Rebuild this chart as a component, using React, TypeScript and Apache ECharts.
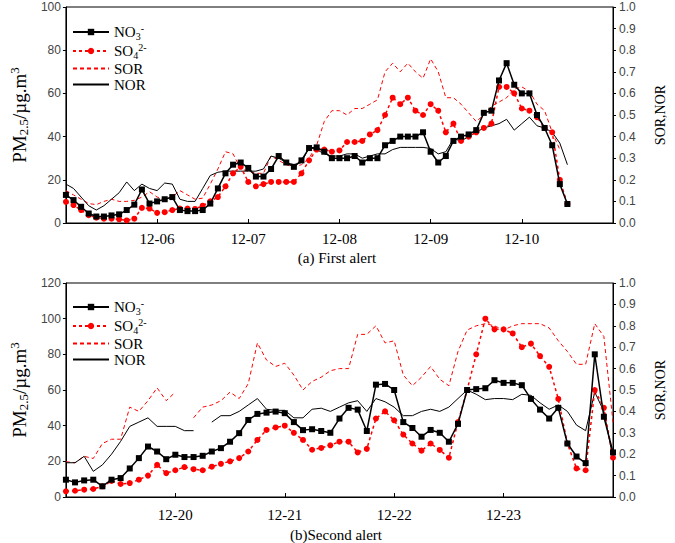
import React, { useEffect, useRef } from 'react';
import * as echarts from 'echarts';

// ---------- DATA ----------
// Sampling step of all series (hours); series start at the first day's 00:00.
const STEP_HOURS = 2;

// (a) First alert: 12-05 00:00 .. 12-10 12:00
const topDays = ['12-05', '12-06', '12-07', '12-08', '12-09', '12-10', '12-11'];
const topNO3 = [
  13, 10.6, 7.5, 4.4, 3, 3, 3.5, 4, 6, 8.5,
  15.5, 9, 10, 11, 12, 6, 5.5, 5.5, 6, 9,
  16, 23, 27, 28, 25.5, 21.5, 21.5, 25, 31, 28,
  26, 29, 34.7, 35, 33, 30, 30, 30, 31, 28,
  30, 30, 36, 38, 40, 40, 40, 42, 33, 28,
  31, 38, 40, 41, 43, 51, 52, 66, 74, 64,
  60, 60, 50, 44, 36, 18, 8.8,
];
const topSO4 = [
  9.8, 8.3, 6, 3.6, 2.5, 2, 2, 1.7, 1.2, 2,
  7, 6.7, 4.7, 5, 6, 6.7, 6.7, 6.5, 8, 10,
  12, 17, 23, 26, 19, 17, 18, 19, 19, 19,
  19, 23, 29, 34, 34, 33, 33.6, 37.5, 37.5, 38,
  41, 43, 50, 58, 55, 58, 52, 50, 55, 52,
  42, 46, 38, 40, 42, 44, 46, 63, 63, 60,
  53, 52, 49, 44, 42, 20, 8.8,
];
const topSOR = [
  0.15, 0.13, 0.11, 0.09, 0.085, 0.1, 0.11, 0.1, 0.1, 0.105,
  0.12, 0.145, 0.12, 0.11, 0.12, 0.15, 0.13, 0.11, 0.115, 0.18,
  0.25, 0.33, 0.32, 0.25, 0.24, 0.23, 0.23, 0.31, 0.29, 0.27,
  0.26, 0.27, 0.3, 0.36, 0.47, 0.52, 0.52, 0.5, 0.53, 0.53,
  0.55, 0.57, 0.7, 0.74, 0.7, 0.74, 0.7, 0.67, 0.76, 0.7,
  0.58, 0.58, 0.55, 0.51, 0.47, 0.5, 0.54, 0.56, 0.58, 0.62,
  0.63, 0.61, 0.55, 0.52, 0.42, 0.34, null,
];
const topNOR = [
  0.18, 0.16, 0.12, 0.08, 0.06, 0.08, 0.11, 0.14, 0.19, 0.15,
  0.18, 0.16, 0.15, 0.185, 0.18, 0.11, 0.1, 0.1, 0.16, 0.22,
  0.235, 0.24, 0.24, 0.24, 0.24, 0.24, 0.25, 0.31, 0.3, 0.28,
  0.27, 0.28, 0.35, 0.34, 0.32, 0.31, 0.31, 0.32, 0.32, 0.3,
  0.31, 0.32, 0.32, 0.34, 0.35, 0.35, 0.35, 0.35, 0.345, 0.32,
  0.33, 0.39, 0.38, 0.4, 0.42, 0.44, 0.45, 0.46, 0.48, 0.43,
  0.46, 0.49, 0.45, 0.44, 0.42, 0.37, 0.27,
];

// (b) Second alert: 12-19 00:00 .. 12-24 00:00
const bottomDays = ['12-19', '12-20', '12-21', '12-22', '12-23', '12-24'];
const bottomNO3 = [
  9.7, 8.2, 9.3, 9.7, 6, 9.7, 10.6, 16, 21.8, 28.3,
  25.5, 21.2, 23.7, 22.4, 22.4, 23.1, 25.5, 27.4, 31, 35.8,
  43.2, 46.6, 47.3, 47.9, 47, 42, 37.5, 38, 37, 36,
  44, 50, 49, 37, 63, 63.4, 60, 42, 38.7, 33.8,
  37.6, 36, 31, 41, 60, 60.5, 61, 65.5, 64, 64,
  62.7, 55, 49, 44, 50, 30, 22.7, 19, 80, 45,
  25,
];
const bottomSO4 = [
  3.2, 3.5, 4.1, 4.5, 6, 9, 7.3, 7.8, 9.7, 12,
  18, 13.4, 15, 16.8, 15.6, 15, 17, 18.6, 20, 21.8,
  25.5, 32, 37.6, 39, 40, 36, 32, 26.5, 27.5, 29,
  31, 31, 25, 27, 44, 48, 43, 35, 30, 26,
  30, 26.4, 22, 42, 60, 80, 100, 94, 94, 91.7,
  84, 86, 79, 73, 55, 30, 16, 15, 60, 50,
  22,
];
const bottomSOR = [
  0.165, 0.16, 0.19, 0.18, 0.25, 0.27, 0.27, 0.42, 0.4, 0.45,
  0.51, 0.45, 0.49, null, 0.37, 0.42, 0.43, 0.45, 0.49, 0.46,
  0.53, 0.72, 0.64, 0.61, 0.625, 0.57, 0.5, 0.54, 0.56, 0.59,
  0.6, 0.6, 0.76, 0.76, 0.8, 0.72, 0.73, 0.57, 0.52, 0.56,
  0.61, 0.55, 0.52, 0.68, 0.78, 0.8, 0.81, 0.8, 0.78, 0.8,
  0.81, 0.81, 0.81, 0.79, 0.73, 0.68, 0.62, 0.62, 0.81, 0.75,
  0.35,
];
const bottomNOR = [
  0.16, 0.16, 0.19, 0.12, 0.15, 0.2, 0.26, 0.33, 0.35, 0.37,
  0.33, 0.33, 0.33, 0.31, 0.31, null, 0.35, 0.38, 0.38, 0.4,
  0.43, 0.46, 0.41, 0.405, 0.405, 0.37, 0.37, 0.41, 0.415, 0.4,
  0.42, 0.44, 0.45, 0.4, 0.46, 0.445, 0.42, 0.38, 0.38, 0.4,
  0.41, 0.4, 0.42, 0.46, 0.5, 0.48, 0.455, 0.46, 0.46, 0.455,
  0.48, 0.475, 0.44, 0.41, 0.43, 0.4, 0.336, 0.31, 0.49, 0.4,
  0.18,
];

const topLeftTicks = { min: 0, max: 100, interval: 20 };
const bottomLeftTicks = { min: 0, max: 120, interval: 20 };
const rightTicks = { min: 0, max: 1, interval: 0.1 };

const seriesNames = ['NO3', 'SO4', 'SOR', 'NOR'];
const legendLabels: Record<string, string> = {
  NO3: '{t|NO}{sub|3}{sup|-}',
  SO4: '{t|SO}{sub|4}{sup|2-}',
  SOR: '{t|SOR}',
  NOR: '{t|NOR}',
};
const captionTop = '(a) First alert';
const captionBottom = '(b)Second alert';

// ---------- STYLE ----------
const SERIF = '"Liberation Serif", "Times New Roman", serif';
const SANS = '"Liberation Sans", Arial, sans-serif';
const RED = '#ff0000';
const CLEAR = 'rgba(0,0,0,0)';

const toPairs = (arr: (number | null)[]) => arr.map((v, i) => [i * STEP_HOURS, v]);

const richText = {
  t: { fontFamily: SERIF, fontSize: 15, color: '#000', lineHeight: 18 },
  sub: { fontFamily: SERIF, fontSize: 10, color: '#000', lineHeight: 8, verticalAlign: 'bottom' },
  sup: { fontFamily: SERIF, fontSize: 10, color: '#000', lineHeight: 8, verticalAlign: 'top' },
};

const nameRich = {
  t: { fontFamily: SERIF, fontSize: 19, color: '#000', lineHeight: 22 },
  sub: { fontFamily: SERIF, fontSize: 13, color: '#000', lineHeight: 10, verticalAlign: 'bottom' },
  sup: { fontFamily: SERIF, fontSize: 13, color: '#000', lineHeight: 10, verticalAlign: 'top' },
};

function makeSeries(xi: number, yl: number, yr: number, no3: any[], so4: any[], sor: any[], nor: any[]) {
  return [
    {
      name: 'SOR', type: 'line', xAxisIndex: xi, yAxisIndex: yr, data: toPairs(sor),
      symbol: 'none', lineStyle: { color: RED, width: 1, type: [4, 3] },
      itemStyle: { color: CLEAR, borderColor: CLEAR, borderWidth: 0 }, z: 2,
    },
    {
      name: 'NOR', type: 'line', xAxisIndex: xi, yAxisIndex: yr, data: toPairs(nor),
      symbol: 'none', lineStyle: { color: '#000', width: 1 },
      itemStyle: { color: CLEAR, borderColor: CLEAR, borderWidth: 0 }, z: 2,
    },
    {
      name: 'SO4', type: 'line', xAxisIndex: xi, yAxisIndex: yl, data: toPairs(so4),
      symbol: 'circle', symbolSize: 6, showAllSymbol: true,
      lineStyle: { color: RED, width: 1.5, type: [3, 3] }, itemStyle: { color: RED }, z: 3,
    },
    {
      name: 'NO3', type: 'line', xAxisIndex: xi, yAxisIndex: yl, data: toPairs(no3),
      symbol: 'rect', symbolSize: 6, showAllSymbol: true,
      lineStyle: { color: '#000', width: 1.5 }, itemStyle: { color: '#000' }, z: 4,
    },
  ];
}

function xAxisFor(grid: number, days: string[], labelMargin: number) {
  const max = (days.length - 1) * 24;
  return {
    type: 'value', gridIndex: grid, min: 0, max, interval: 24,
    axisLine: { show: true, lineStyle: { color: '#000', width: 1 } },
    axisTick: { show: true, inside: true, length: 4, lineStyle: { color: '#000' } },
    axisLabel: {
      margin: labelMargin, fontFamily: SERIF, fontSize: 15, color: '#000',
      formatter: (v: number) => (v <= 0 || v >= max ? '' : days[Math.round(v / 24)]),
    },
    splitLine: { show: false },
  };
}

function leftAxis(grid: number, t: { min: number; max: number; interval: number }) {
  return {
    type: 'value', gridIndex: grid, position: 'left', ...t,
    name: '{t|PM}{sub|2.5}{t|/µg.m}{sup|3}', nameLocation: 'middle', nameRotate: 90, nameGap: 30,
    nameTextStyle: { rich: nameRich },
    axisLine: { show: true, lineStyle: { color: '#000' } },
    axisTick: { show: true, length: 3, lineStyle: { color: '#000' } },
    axisLabel: { margin: 5, fontFamily: SANS, fontSize: 12, color: '#444' },
    splitLine: { show: false },
  };
}

function rightAxis(grid: number) {
  return {
    type: 'value', gridIndex: grid, position: 'right', ...rightTicks,
    name: 'SOR,NOR', nameLocation: 'middle', nameRotate: 90, nameGap: 40,
    nameTextStyle: { fontFamily: SERIF, fontSize: 14, color: '#000' },
    axisLine: { show: true, lineStyle: { color: '#000' } },
    axisTick: { show: true, length: 3, lineStyle: { color: '#000' } },
    axisLabel: { margin: 6, fontFamily: SANS, fontSize: 12, color: '#444', formatter: (v: number) => v.toFixed(1) },
    splitLine: { show: false },
  };
}

function legendFor(top: number) {
  return {
    orient: 'vertical', left: 72, top, itemWidth: 36, itemHeight: 8, itemGap: 1, padding: 0,
    data: seriesNames,
    selectedMode: false,
    formatter: (n: string) => legendLabels[n],
    textStyle: { rich: richText },
  };
}

export default function App() {
  const ref = useRef<HTMLDivElement>(null);
  useEffect(() => {
    if (!ref.current) return;
    const chart = echarts.init(ref.current, null, { renderer: 'svg' });
    chart.setOption({
      animation: false,
      backgroundColor: '#fff',
      grid: [
        { left: 53, top: 7, width: 570, height: 216, show: true, borderColor: '#000', borderWidth: 1 },
        { left: 50, top: 283, width: 572, height: 214, show: true, borderColor: '#000', borderWidth: 1 },
      ],
      xAxis: [xAxisFor(0, topDays, 8), xAxisFor(1, bottomDays, 10)],
      yAxis: [leftAxis(0, topLeftTicks), rightAxis(0), leftAxis(1, bottomLeftTicks), rightAxis(1)],
      legend: [legendFor(23), legendFor(298)],
      graphic: [
        { type: 'text', x: 337, y: 258, style: { text: captionTop, fontFamily: SERIF, fontSize: 15, fill: '#000', align: 'center', verticalAlign: 'middle' } },
        { type: 'text', x: 336, y: 535, style: { text: captionBottom, fontFamily: SERIF, fontSize: 15, fill: '#000', align: 'center', verticalAlign: 'middle' } },
      ],
      series: [
        ...makeSeries(0, 0, 1, topNO3, topSO4, topSOR, topNOR),
        ...makeSeries(1, 2, 3, bottomNO3, bottomSO4, bottomSOR, bottomNOR),
      ],
    });
    return () => chart.dispose();
  }, []);
  return <div ref={ref} style={{ position: 'absolute', left: 0, top: 0, width: 675, height: 543, background: '#fff' }} />;
}
